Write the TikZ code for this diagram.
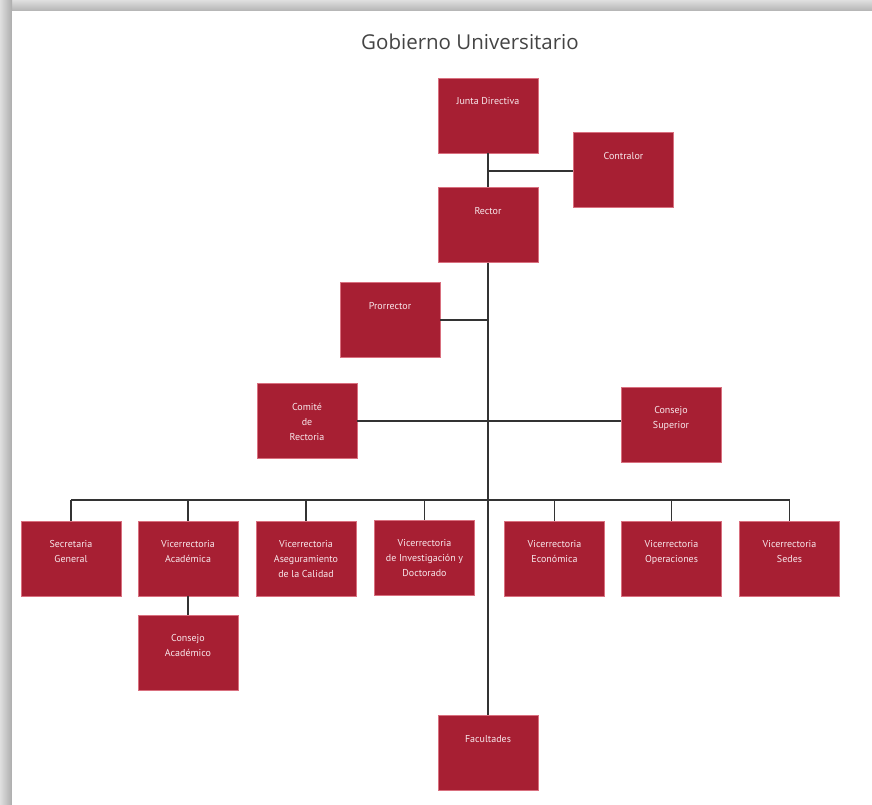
\documentclass[tikz,border=0pt]{standalone}
\usepackage{fontspec}
\setmainfont{PT Sans}
\newfontfamily\titlefont{Open Sans}
\definecolor{boxred}{HTML}{A71F33}
\definecolor{boxedge}{HTML}{D9707F}
\definecolor{boxtext}{HTML}{F8E8EC}
\definecolor{linegray}{HTML}{333333}
\definecolor{titlegray}{HTML}{444444}
\tikzset{
  orgbox/.style={draw=boxedge, line width=0.8pt, fill=boxred, minimum width=100pt, minimum height=75pt, inner sep=0pt},
  orglbl/.style={anchor=north, inner sep=0pt, align=center, text=boxtext, font=\fontsize{10}{15}\selectfont},
  conn/.style={draw=linegray, line width=1.3pt},
}
\newcommand{\orgb}[3]{%
  \node[orgbox] (#1) at (#2) {};
  \node[orglbl] (#1-t) at ([yshift=-20pt]#1.north) {#3};
}
\begin{document}
\begin{tikzpicture}[x=1pt,y=-1pt]
\useasboundingbox (0,0) rectangle (872,805);
% page shadow
\shade[top color=gray!25, bottom color=gray!60] (0,0) rectangle (872,11);
\shade[left color=gray!25, right color=gray!65] (0,0) rectangle (12,805);
\fill[white] (12,11) rectangle (872,805);
% title
\node[font=\titlefont\fontsize{20.5}{24}\selectfont, text=titlegray] (title) at (470,42) {Gobierno Universitario};
% boxes
\orgb{junta}{488,115.5}{Junta Directiva}
\orgb{contralor}{623.5,170}{Contralor}
\orgb{rector}{488,225}{Rector}
\orgb{prorrector}{390,320}{Prorrector}
\orgb{comite}{307,421}{Comité\\de\\Rectoria}
\orgb{consup}{671,424.5}{Consejo\\Superior}
\orgb{secgen}{71,558.5}{Secretaria\\General}
\orgb{vacad}{188,558.5}{Vicerrectoria\\Académica}
\orgb{aseg}{306,558.5}{Vicerrectoria\\Aseguramiento\\de la Calidad}
\orgb{invest}{424.5,557.5}{Vicerrectoria\\de Investigación y\\Doctorado}
\orgb{econ}{554.5,558.5}{Vicerrectoria\\Económica}
\orgb{oper}{671.5,558.5}{Vicerrectoria\\Operaciones}
\orgb{sedes}{789.5,558.5}{Vicerrectoria\\Sedes}
\orgb{consac}{188,652.5}{Consejo\\Académico}
\orgb{facul}{488,753}{Facultades}
% connectors
\coordinate (jc) at (488,171);
\coordinate (bar) at (488,500);
\path[conn] (junta.south) -- (rector.north);
\path[conn] (jc) -- (contralor.west |- jc);
\path[conn] (rector.south) -- (facul.north);
\path[conn] (prorrector.east) -- (prorrector.east -| bar);
\path[conn] (comite.east) -- (consup.west |- comite.east);
\path[conn] (secgen.north |- bar) -- (sedes.north |- bar);
\foreach \n in {secgen,vacad,aseg,invest,econ,oper,sedes}{
  \path[conn] (\n.north |- bar) -- (\n.north);
}
\path[conn] (vacad.south) -- (consac.north);
\end{tikzpicture}
\end{document}
